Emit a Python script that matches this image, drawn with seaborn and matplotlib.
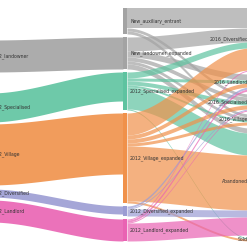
# Sankey-style flows drawn with matplotlib/seaborn
import numpy as np
import matplotlib.pyplot as plt
import seaborn as sns

sns.set_style("white")

# nodes in each column
left_nodes = ["2012_landowner", "2012_Specialised", "2012_Village", "2012_Diversified", "2012_Landlord"]
left_values = [32, 29, 61, 8, 22]
mid_nodes = ["New_auxiliary_entrant", "New_landowner_expanded", "2012_Specialised_expanded",
             "2012_Village_expanded", "2012_Diversified_expanded", "2012_Landlord_expanded"]
mid_values = [26, 32, 38, 90, 10, 22]
right_nodes = ["2016_Diversified", "2016_Landlord", "2016_Specialised", "2016_Village", "Abandoned", "Sold"]
# left node i goes to middle node left_target[i]
left_target = [1, 2, 3, 4, 5]
# flows middle -> right (rows = middle nodes, cols = right nodes)
mid_right = [
    [20, 0, 3, 3, 0, 0],
    [14, 6, 4, 3, 5, 0],
    [6, 3, 4, 2, 22, 1],
    [22, 4, 4, 3, 55, 2],
    [0, 2, 1, 0, 7, 0],
    [1, 2, 1, 0, 18, 0],
]

gray, green, orange, purple, pink = "#a3a3a3", "#5ec3a0", "#f0914a", "#9b9cd3", "#e963b3"
left_colors = [gray, green, orange, purple, pink]
mid_colors = [gray, gray, green, orange, purple, pink]

# layout (pixel units)
x_left, x_mid, x_right = -10, 123, 250
bar_w = 4
left_top, left_gaps = 40, [21, 2, 4, 3]


def stack(values, top, gaps):
    pos = []
    y = top
    for i, v in enumerate(values):
        pos.append(y)
        y += v + (gaps[i] if i < len(gaps) else 0)
    return pos


left_y = stack(left_values, left_top, left_gaps)
mid_y = stack(mid_values, 8, [3] * 5)
right_values = list(np.array(mid_right).sum(axis=0))
right_y = stack(right_values, 8, [3] * 5)


def band(ax, xa, xb, ya, yb, w, color, alpha):
    x = np.linspace(xa, xb, 80)
    t = (x - xa) / (xb - xa)
    s = 3 * t ** 2 - 2 * t ** 3
    top = ya + (yb - ya) * s
    ax.fill_between(x, top, top + w, color=color, alpha=alpha, lw=0)


fig = plt.figure(figsize=(2.47, 2.43), dpi=100)
ax = fig.add_axes([0, 0, 1, 1])
ax.set_xlim(0, 247)
ax.set_ylim(243, 0)
ax.axis("off")

# left -> middle
mid_in = list(mid_y)
for i, v in enumerate(left_values):
    j = left_target[i]
    band(ax, x_left, x_mid, left_y[i], mid_in[j], v, left_colors[i], 0.9)
    mid_in[j] += v

# middle -> right
r_in = list(right_y)
out = list(mid_y)
for i in range(len(mid_nodes)):
    for k in range(len(right_nodes)):
        v = mid_right[i][k]
        if v == 0:
            continue
        band(ax, x_mid + bar_w, x_right, out[i], r_in[k], v, mid_colors[i], 0.7)
        out[i] += v
        r_in[k] += v

# node bars
for i, v in enumerate(mid_values):
    ax.add_patch(plt.Rectangle((x_mid, mid_y[i]), bar_w, v, color=mid_colors[i], lw=0))

fs = 3.3
tc = "#333333"
for i, name in enumerate(left_nodes):
    ax.text(x_left + 1, left_y[i] + left_values[i] / 2, name, fontsize=fs, color=tc, va="center", ha="left")
for i, name in enumerate(mid_nodes):
    ax.text(x_mid + bar_w + 3, mid_y[i] + mid_values[i] / 2, name, fontsize=fs, color=tc, va="center", ha="left")
for i, name in enumerate(right_nodes):
    ax.text(x_right - 2, right_y[i] + right_values[i] / 2, name, fontsize=fs, color=tc, va="center", ha="right")

fig.savefig("out.png", dpi=100)
